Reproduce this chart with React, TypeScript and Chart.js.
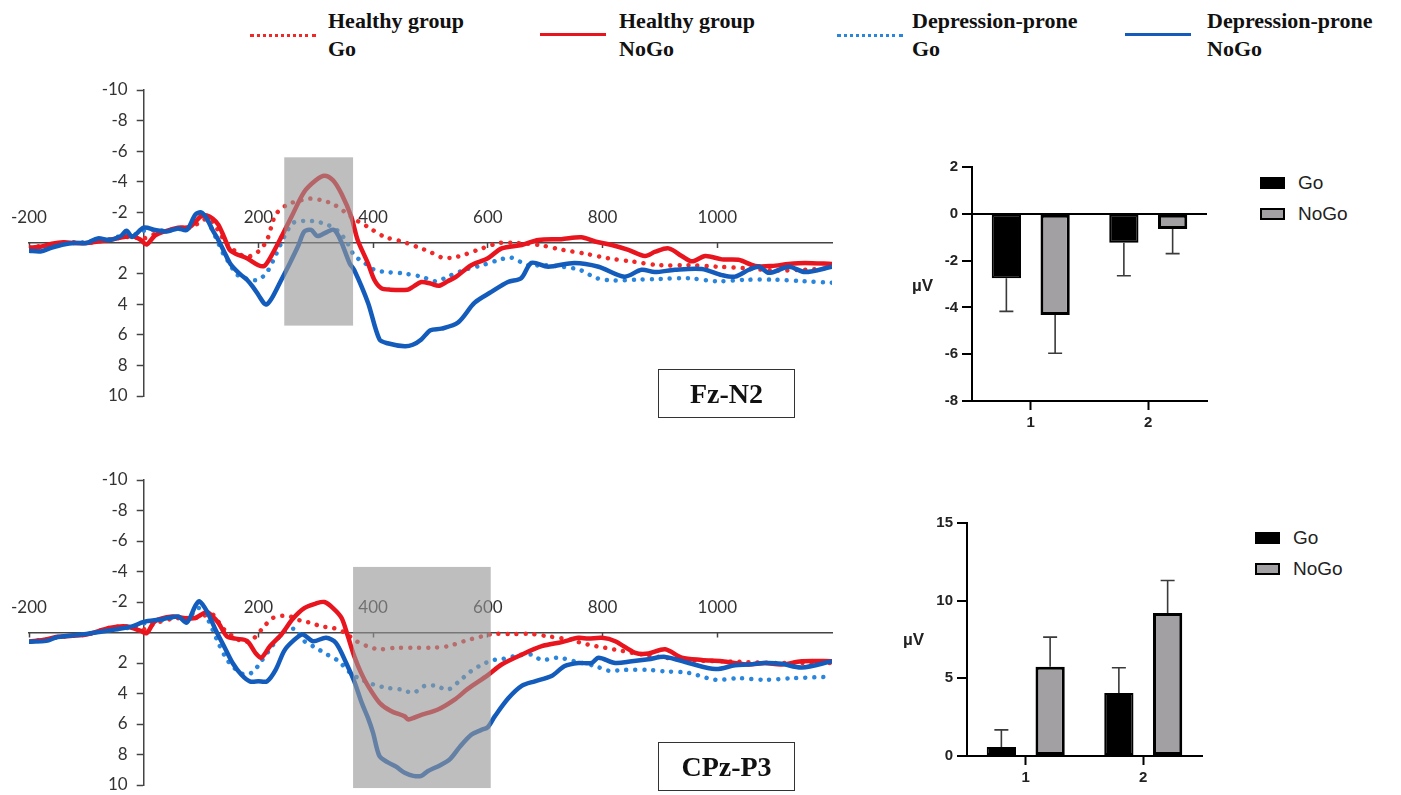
import React, { useEffect, useRef } from 'react';
import { Chart, registerables } from 'chart.js';

Chart.register(...registerables);

type Pt = [number, number];

// ---------- ERP waveforms (time in ms, amplitude in µV) ----------
const fzHealthyGo: Pt[] = [
  [-200, 0.3], [-180, 0.2], [-160, 0.1], [-140, 0], [-120, -0.05], [-100, 0], [-80, -0.1], [-60, -0.2],
  [-40, -0.35], [-20, -0.4], [0, -0.3], [20, -0.6], [40, -0.8], [60, -0.95], [80, -1.0], [100, -1.4],
  [110, -1.6], [120, -1.4], [140, -0.2], [160, 0.55], [180, 0.9], [200, 0.55], [215, -0.2], [230, -1.85],
  [250, -2.5], [270, -2.75], [290, -2.9], [310, -2.8], [330, -2.55], [350, -2.05], [370, -1.5], [390, -1.07],
  [420, -0.4], [450, -0.1], [480, 0.3], [500, 0.6], [520, 0.95], [540, 0.95], [560, 0.75], [590, 0.35],
  [620, 0.0], [650, 0], [690, 0.13], [730, 0.45], [770, 0.7], [810, 1.0], [850, 1.2], [900, 1.45],
  [950, 1.45], [1000, 1.55], [1050, 1.65], [1100, 1.8], [1150, 1.75], [1200, 1.65],
];
const fzHealthyNoGo: Pt[] = [
  [-200, 0.3], [-180, 0.25], [-160, 0.05], [-140, -0.05], [-120, 0], [-100, 0], [-80, -0.1], [-60, -0.2],
  [-40, -0.35], [-20, -0.45], [-5, -0.2], [5, 0.1], [20, -0.5], [40, -0.8], [60, -1.0], [80, -1.05],
  [100, -1.75], [110, -1.8], [120, -1.6], [130, -1.2], [140, -0.4], [150, 0.45], [160, 0.7], [180, 1.0],
  [200, 1.45], [210, 1.5], [220, 1.0], [240, -0.4], [260, -1.9], [280, -3.35], [300, -4.1], [315, -4.4],
  [330, -4.1], [345, -3.2], [362, -1.7], [373, -0.2], [391, 1.33], [402, 2.4], [414, 2.95], [430, 3.05],
  [460, 3.05], [470, 2.85], [484, 2.55], [500, 2.65], [515, 2.8], [530, 2.5], [545, 2.2], [571, 1.45],
  [600, 1.0], [624, 0.35], [659, 0.13], [688, -0.2], [728, -0.25], [763, -0.37], [787, -0.1], [816, 0.13],
  [845, 0.45], [874, 0.85], [892, 0.57], [915, 0.35], [938, 0.85], [956, 1.2], [979, 0.85], [1008, 1.07],
  [1037, 1.1], [1066, 1.5], [1095, 1.5], [1124, 1.37], [1153, 1.3], [1200, 1.37],
];
const fzDepressedGo: Pt[] = [
  [-200, 0.45], [-180, 0.4], [-160, 0.2], [-140, 0.05], [-120, 0], [-100, -0.05], [-80, -0.2], [-60, -0.25],
  [-40, -0.45], [-20, -0.5], [0, -0.8], [20, -0.85], [40, -0.8], [60, -0.9], [80, -1.0], [95, -1.7],
  [105, -1.8], [115, -1.2], [130, 0], [140, 0.8], [150, 1.35], [160, 2.0], [170, 2.2], [185, 2.4],
  [200, 2.4], [215, 1.9], [230, 0.8], [245, -0.4], [260, -1.3], [280, -1.45], [300, -1.4], [320, -1.2],
  [340, -0.75], [355, 0.0], [367, 0.8], [385, 1.3], [402, 1.75], [425, 1.9], [455, 2.0], [484, 2.2],
  [510, 2.5], [530, 2.2], [560, 1.75], [590, 1.45], [620, 1.1], [640, 0.95], [670, 1.45], [700, 1.45],
  [730, 1.55], [760, 1.75], [790, 2.3], [820, 2.45], [860, 2.4], [900, 2.35], [950, 2.3], [1000, 2.5],
  [1050, 2.4], [1100, 2.4], [1150, 2.5], [1200, 2.6],
];
const fzDepressedNoGo: Pt[] = [
  [-200, 0.5], [-180, 0.55], [-160, 0.3], [-140, 0.1], [-120, 0], [-100, 0], [-80, -0.3], [-60, -0.2],
  [-40, -0.45], [-30, -0.8], [-20, -0.4], [0, -1.0], [20, -0.85], [40, -0.75], [60, -0.95], [75, -0.85],
  [90, -1.85], [100, -2.0], [110, -1.6], [120, -0.85], [130, -0.2], [140, 0.55], [150, 1.3], [160, 1.75],
  [170, 2.1], [180, 2.4], [190, 2.85], [200, 3.4], [210, 3.95], [215, 4.0], [225, 3.5], [240, 2.4],
  [255, 1.3], [270, 0.13], [280, -0.75], [292, -0.85], [303, -0.45], [321, -0.75], [332, -0.85], [343, -0.2],
  [359, 1.33], [367, 1.76], [391, 3.9], [411, 6.3], [425, 6.55], [455, 6.75], [469, 6.65], [484, 6.3],
  [500, 5.7], [519, 5.6], [548, 5.2], [577, 3.9], [606, 3.2], [635, 2.55], [658, 2.3], [676, 1.3],
  [705, 1.55], [751, 1.3], [793, 1.55], [838, 2.2], [868, 1.75], [891, 1.9], [926, 1.75], [973, 1.7],
  [1008, 2.1], [1031, 2.2], [1055, 1.75], [1073, 1.55], [1090, 1.95], [1125, 1.55], [1153, 1.9], [1200, 1.55],
];

const cpzHealthyGo: Pt[] = [
  [-200, 0.6], [-170, 0.45], [-150, 0.28], [-100, 0.13], [-60, -0.3], [-30, -0.4], [0, -0.2], [20, -0.6],
  [50, -0.9], [70, -0.95], [90, -0.95], [110, -1.15], [120, -1.2], [140, -0.2], [160, 0.35], [175, 0.63],
  [190, 0.45], [210, -0.4], [225, -0.95], [245, -1.1], [260, -1.0], [275, -0.75], [290, -0.65], [310, -0.4],
  [330, -0.3], [350, 0], [370, 0.55], [390, 0.9], [410, 1.1], [440, 1.0], [470, 1.0], [500, 1.0],
  [530, 0.9], [560, 0.55], [590, 0.25], [610, 0.1], [640, 0.1], [676, 0.1], [705, 0.25], [740, 0.45],
  [775, 0.8], [804, 1.0], [833, 1.2], [870, 1.45], [920, 1.7], [970, 1.85], [1020, 1.9], [1100, 2.0],
  [1200, 2.0],
];
const cpzHealthyNoGo: Pt[] = [
  [-200, 0.6], [-170, 0.45], [-150, 0.28], [-100, 0.13], [-60, -0.3], [-30, -0.4], [-5, -0.1], [5, 0.05],
  [20, -0.75], [50, -1.05], [70, -0.95], [90, -0.95], [110, -1.35], [120, -1.05], [130, -0.65], [145, 0.25],
  [160, 0.4], [180, 0.55], [195, 1.35], [205, 1.65], [220, 0.9], [240, 0.13], [260, -0.9], [280, -1.6],
  [300, -1.9], [315, -2.0], [330, -1.6], [345, -0.95], [356, 0.25], [367, 1.55], [379, 2.65], [391, 3.5],
  [411, 4.6], [431, 5.15], [455, 5.5], [461, 5.7], [484, 5.4], [513, 5.05], [542, 4.4], [565, 3.7],
  [600, 2.8], [624, 2.1], [659, 1.45], [694, 0.9], [729, 0.63], [758, 0.35], [775, 0.4], [799, 0.35],
  [822, 0.57], [857, 1.33], [880, 1.38], [909, 1.1], [938, 1.65], [973, 1.8], [1008, 1.88], [1054, 2.1],
  [1083, 2.0], [1112, 2.1], [1147, 1.88], [1200, 1.88],
];
const cpzDepressedGo: Pt[] = [
  [-200, 0.6], [-170, 0.5], [-150, 0.3], [-100, 0.1], [-50, -0.2], [-20, -0.35], [0, -0.6], [30, -0.8],
  [60, -1.0], [75, -0.7], [90, -1.5], [100, -1.6], [110, -1.0], [120, -0.2], [130, 0.68], [145, 1.77],
  [160, 2.4], [175, 2.75], [190, 2.6], [205, 1.88], [220, 1.1], [235, 0.35], [250, -0.2], [265, -0.2],
  [280, 0.57], [300, 1.0], [320, 1.45], [340, 1.88], [360, 2.65], [380, 3.1], [400, 3.4], [420, 3.6],
  [450, 3.75], [470, 3.95], [490, 3.5], [510, 3.5], [530, 3.75], [550, 3.2], [570, 2.55], [590, 2.1],
  [610, 1.8], [624, 1.75], [647, 1.55], [676, 1.45], [694, 1.8], [723, 1.65], [752, 1.9], [787, 2.2],
  [810, 2.5], [839, 2.45], [880, 2.45], [909, 2.55], [950, 2.65], [997, 3.1], [1037, 3.0], [1083, 3.1],
  [1130, 3.0], [1200, 2.9],
];
const cpzDepressedNoGo: Pt[] = [
  [-200, 0.6], [-170, 0.55], [-150, 0.3], [-100, 0.1], [-50, -0.2], [-20, -0.4], [0, -0.7], [30, -0.85],
  [60, -1.05], [75, -0.65], [90, -1.75], [97, -2.05], [110, -1.4], [125, -0.2], [140, 0.9], [155, 2.0],
  [170, 2.75], [185, 3.2], [200, 3.2], [215, 3.2], [230, 2.45], [245, 1.2], [260, 0.57], [277, 0.13],
  [295, 0.57], [318, 0.35], [335, 0.68], [353, 2.0], [367, 3.2], [380, 4.6], [391, 5.6], [400, 6.6],
  [411, 8.1], [425, 8.5], [440, 8.8], [455, 9.2], [470, 9.4], [484, 9.4], [495, 9.1], [517, 8.7],
  [534, 8.3], [551, 7.5], [571, 6.7], [588, 6.4], [600, 6.2], [612, 5.5], [636, 4.3], [659, 3.5],
  [682, 3.2], [711, 2.85], [734, 2.2], [758, 2.0], [781, 2.0], [793, 1.65], [822, 2.0], [851, 1.88],
  [880, 1.75], [909, 1.6], [950, 2.0], [997, 2.4], [1031, 2.15], [1054, 2.1], [1083, 2.0], [1112, 2.05],
  [1147, 2.3], [1200, 1.88],
];

const erpTimeTicks = [-200, 200, 400, 600, 800, 1000];
const erpVoltTicks = [-10, -8, -6, -4, -2, 2, 4, 6, 8, 10];
const fzWindow = { t0: 245, t1: 365, v0: -5.6, v1: 5.4 };
const cpzWindow = { t0: 365, t1: 605, v0: -4.3, v1: 10.2 };

// ---------- bar charts (group 1 / group 2) ----------
const barCategories = ['1', '2'];
const n2GoMean = [-2.75, -1.24];
const n2NoGoMean = [-4.32, -0.65];
const n2GoErr = [1.42, 1.41];
const n2NoGoErr = [1.64, 1.05];
const p3GoMean = [0.58, 4.06];
const p3NoGoMean = [5.75, 9.2];
const p3GoErr = [1.1, 1.62];
const p3NoGoErr = [1.9, 2.1];

const legendLabels = [
  ['Healthy group', 'Go'],
  ['Healthy group', 'NoGo'],
  ['Depression-prone', 'Go'],
  ['Depression-prone', 'NoGo'],
];

const RED = '#e8141e';
const RED_DOT = '#f02828';
const BLUE = '#135cbc';
const BLUE_DOT = '#2a86dc';

type Win = { t0: number; t1: number; v0: number; v1: number };

function ErpChart(props: {
  left: number; top: number; width: number; height: number;
  pad: { left: number; right: number; top: number; bottom: number };
  hGo: Pt[]; hNoGo: Pt[]; dGo: Pt[]; dNoGo: Pt[]; win: Win;
}) {
  const ref = useRef<HTMLCanvasElement>(null);
  useEffect(() => {
    const { hGo, hNoGo, dGo, dNoGo, win, pad } = props;
    const toXY = (s: Pt[]) => s.map(([t, v]) => ({ x: t, y: v }));
    const shade = {
      id: 'shade',
      afterDatasetsDraw(chart: any) {
        const { ctx } = chart;
        const xs = chart.scales.x, ys = chart.scales.y;
        const x0 = xs.getPixelForValue(win.t0), x1 = xs.getPixelForValue(win.t1);
        const y0 = ys.getPixelForValue(win.v0), y1 = ys.getPixelForValue(win.v1);
        ctx.save();
        ctx.fillStyle = 'rgba(150,150,150,0.62)';
        ctx.fillRect(x0, Math.min(y0, y1), x1 - x0, Math.abs(y1 - y0));
        ctx.restore();
      },
    };
    // place the time axis on the 0 µV line and the voltage axis on 0 ms
    const originAxes = {
      id: 'originAxes',
      afterLayout(chart: any) {
        const xs = chart.scales.x, ys = chart.scales.y;
        const zy = ys.getPixelForValue(0);
        xs.top = zy - 60; xs.bottom = zy;
        const zx = xs.getPixelForValue(0);
        ys.left = zx - 70; ys.right = zx;
      },
    };
    const zeroPad = (s: any) => { s.paddingLeft = 0; s.paddingRight = 0; s.paddingTop = 0; s.paddingBottom = 0; };
    const dotted = { borderWidth: 4.5, borderDash: [0.01, 9], borderCapStyle: 'round' as const };
    const chart = new Chart(ref.current!, {
      type: 'line',
      data: {
        datasets: [
          { data: toXY(dNoGo), borderColor: BLUE, borderWidth: 4.5 },
          { data: toXY(hNoGo), borderColor: RED, borderWidth: 4.5 },
          { data: toXY(dGo), borderColor: BLUE_DOT, ...dotted },
          { data: toXY(hGo), borderColor: RED_DOT, ...dotted },
        ] as any,
      },
      options: {
        animation: false,
        responsive: false,
        maintainAspectRatio: false,
        layout: { padding: pad },
        elements: { point: { radius: 0 }, line: { tension: 0.3, borderJoinStyle: 'round' } },
        plugins: { legend: { display: false }, tooltip: { enabled: false } },
        scales: {
          x: {
            type: 'linear', position: 'top', min: -200, max: 1200,
            afterBuildTicks: (s: any) => { s.ticks = erpTimeTicks.map((v) => ({ value: v })); },
            afterFit: (s: any) => { s.height = 0; zeroPad(s); },
            grid: { drawOnChartArea: false, tickLength: -5, tickColor: '#444', tickWidth: 1.5 },
            border: { color: '#444', width: 1.5 },
            ticks: {
              padding: 20, autoSkip: false, maxRotation: 0, color: '#333', font: { family: 'Lato', size: 17 },
              callback: (v: any) => String(v),
            },
          },
          y: {
            type: 'linear', position: 'left', min: -10, max: 10, reverse: true,
            afterBuildTicks: (s: any) => { s.ticks = erpVoltTicks.map((v) => ({ value: v })); },
            afterFit: (s: any) => { s.width = 0; zeroPad(s); },
            grid: { drawOnChartArea: false, tickLength: 7, tickColor: '#444', tickWidth: 1.5 },
            border: { color: '#444', width: 1.5 },
            ticks: {
              padding: 9, autoSkip: false, color: '#333', font: { family: 'Lato', size: 17 },
              callback: (v: any) => String(v),
            },
          },
        },
      } as any,
      plugins: [shade, originAxes],
    });
    return () => chart.destroy();
  }, []);
  return (
    <canvas
      ref={ref}
      width={props.width}
      height={props.height}
      style={{ position: 'absolute', left: props.left, top: props.top, width: props.width, height: props.height }}
    />
  );
}

function BarChart(props: {
  left: number; top: number; width: number; height: number;
  axisW: number; axisH: number; padTop: number; padRight: number;
  go: number[]; noGo: number[]; goErr: number[]; noGoErr: number[];
  min: number; max: number; step: number; zeroLine: boolean;
}) {
  const ref = useRef<HTMLCanvasElement>(null);
  useEffect(() => {
    const { go, noGo, goErr, noGoErr } = props;
    const errs = [goErr, noGoErr];
    const errorBars = {
      id: 'errorBars',
      afterDatasetsDraw(chart: any) {
        const { ctx } = chart;
        const ys = chart.scales.y;
        ctx.save();
        ctx.strokeStyle = '#3a3a3a';
        ctx.lineWidth = 1.6;
        chart.data.datasets.forEach((ds: any, i: number) => {
          const meta = chart.getDatasetMeta(i);
          meta.data.forEach((bar: any, j: number) => {
            const v = ds.data[j];
            const end = v + (v < 0 ? -1 : 1) * errs[i][j];
            const p0 = ys.getPixelForValue(v);
            const p1 = ys.getPixelForValue(end);
            ctx.beginPath();
            ctx.moveTo(bar.x, p0);
            ctx.lineTo(bar.x, p1);
            ctx.moveTo(bar.x - 7, p1);
            ctx.lineTo(bar.x + 7, p1);
            ctx.stroke();
          });
        });
        ctx.restore();
      },
    };
    const zeroPad = (s: any) => { s.paddingLeft = 0; s.paddingRight = 0; s.paddingTop = 0; s.paddingBottom = 0; };
    const tickFont = { family: '"Liberation Sans", Arial, sans-serif', size: 15, weight: 'bold' as const };
    const chart = new Chart(ref.current!, {
      type: 'bar',
      data: {
        labels: barCategories,
        datasets: [
          { label: 'Go', data: go, backgroundColor: '#000', borderColor: '#000', borderWidth: 2, borderSkipped: false, categoryPercentage: 0.83, barPercentage: 0.6 },
          { label: 'NoGo', data: noGo, backgroundColor: '#a3a0a3', borderColor: '#000', borderWidth: 3, borderSkipped: false, categoryPercentage: 0.83, barPercentage: 0.6 },
        ],
      },
      options: {
        animation: false,
        responsive: false,
        maintainAspectRatio: false,
        layout: { padding: { top: props.padTop, right: props.padRight, left: 0, bottom: 0 } },
        plugins: { legend: { display: false }, tooltip: { enabled: false } },
        scales: {
          x: {
            afterFit: (s: any) => { s.height = props.axisH; zeroPad(s); },
            grid: { offset: false, drawOnChartArea: false, tickLength: 9, tickColor: '#000', tickWidth: 2 },
            border: { color: '#000', width: 2 },
            ticks: { padding: 4, color: '#222', font: tickFont },
          },
          y: {
            min: props.min, max: props.max,
            afterFit: (s: any) => { s.width = props.axisW; zeroPad(s); },
            grid: {
              drawOnChartArea: props.zeroLine,
              color: (c: any) => (c.tick && c.tick.value === 0 ? '#000' : 'rgba(0,0,0,0)'),
              lineWidth: 2, tickLength: 10, tickColor: '#000', tickWidth: 2,
            },
            border: { color: '#000', width: 2 },
            ticks: { stepSize: props.step, padding: 4, color: '#222', font: tickFont },
          },
        },
      } as any,
      plugins: [errorBars],
    });
    return () => chart.destroy();
  }, []);
  return (
    <canvas
      ref={ref}
      width={props.width}
      height={props.height}
      style={{ position: 'absolute', left: props.left, top: props.top, width: props.width, height: props.height }}
    />
  );
}

const serif = '"Liberation Serif", "Times New Roman", serif';
const sans = '"Liberation Sans", Arial, sans-serif';

function TopLegend() {
  const lineX = [250, 540, 837, 1125];
  const textX = [328, 619, 912, 1207];
  const colors = [RED_DOT, RED, BLUE_DOT, BLUE];
  const dottedFlags = [true, false, true, false];
  return (
    <>
      {legendLabels.map((lab, i) => (
        <React.Fragment key={i}>
          <div style={{
            position: 'absolute', left: lineX[i], top: dottedFlags[i] ? 34 : 33, width: 66, height: 0,
            borderTop: dottedFlags[i] ? `3px dotted ${colors[i]}` : `3.5px solid ${colors[i]}`,
          }} />
          <div style={{
            position: 'absolute', left: textX[i], top: 7, fontFamily: serif, fontWeight: 'bold',
            fontSize: 22, lineHeight: '28px', color: '#111', whiteSpace: 'nowrap',
          }}>
            <div>{lab[0]}</div>
            <div>{lab[1]}</div>
          </div>
        </React.Fragment>
      ))}
    </>
  );
}

function BarLegend({ left, top }: { left: number; top: number }) {
  const items = [['Go', '#000'], ['NoGo', '#a3a0a3']];
  return (
    <>
      {items.map(([name, fill], i) => (
        <React.Fragment key={name}>
          <div style={{
            position: 'absolute', left, top: top + i * 31, width: 25, height: 12, boxSizing: 'border-box',
            border: '2.5px solid #000', background: fill,
          }} />
          <div style={{
            position: 'absolute', left: left + 38, top: top + i * 31 - 6, fontFamily: sans, fontSize: 19,
            lineHeight: '24px', color: '#222',
          }}>{name}</div>
        </React.Fragment>
      ))}
    </>
  );
}

function LabelBox({ left, top, text }: { left: number; top: number; text: string }) {
  return (
    <div style={{
      position: 'absolute', left, top, width: 137, height: 49, boxSizing: 'border-box',
      border: '1.5px solid #333', display: 'flex', alignItems: 'center', justifyContent: 'center',
      fontFamily: serif, fontWeight: 'bold', fontSize: 28, color: '#111',
    }}>{text}</div>
  );
}

export default function App() {
  return (
    <div style={{ position: 'fixed', left: 0, top: 0, width: 1401, height: 795, background: '#fff', overflow: 'hidden' }}>
      <TopLegend />
      <ErpChart
        left={0} top={70} width={860} height={350}
        pad={{ left: 29, right: 28, top: 20, bottom: 24 }}
        hGo={fzHealthyGo} hNoGo={fzHealthyNoGo} dGo={fzDepressedGo} dNoGo={fzDepressedNoGo} win={fzWindow}
      />
      <ErpChart
        left={0} top={450} width={860} height={345}
        pad={{ left: 29, right: 28, top: 30, bottom: 10 }}
        hGo={cpzHealthyGo} hNoGo={cpzHealthyNoGo} dGo={cpzDepressedGo} dNoGo={cpzDepressedNoGo} win={cpzWindow}
      />
      <LabelBox left={658} top={369} text="Fz-N2" />
      <LabelBox left={658} top={742} text="CPz-P3" />

      <BarChart
        left={880} top={140} width={330} height={300} axisW={92} axisH={39} padTop={27} padRight={3}
        go={n2GoMean} noGo={n2NoGoMean} goErr={n2GoErr} noGoErr={n2NoGoErr}
        min={-8} max={2} step={2} zeroLine={true}
      />
      <BarChart
        left={880} top={500} width={330} height={295} axisW={87} axisH={39} padTop={23} padRight={8}
        go={p3GoMean} noGo={p3NoGoMean} goErr={p3GoErr} noGoErr={p3NoGoErr}
        min={0} max={15} step={5} zeroLine={false}
      />
      <div style={{ position: 'absolute', left: 912, top: 276, fontFamily: sans, fontWeight: 'bold', fontSize: 17, color: '#222' }}>µV</div>
      <div style={{ position: 'absolute', left: 903, top: 630, fontFamily: sans, fontWeight: 'bold', fontSize: 17, color: '#222' }}>µV</div>
      <BarLegend left={1260} top={177} />
      <BarLegend left={1255} top={532} />
    </div>
  );
}
